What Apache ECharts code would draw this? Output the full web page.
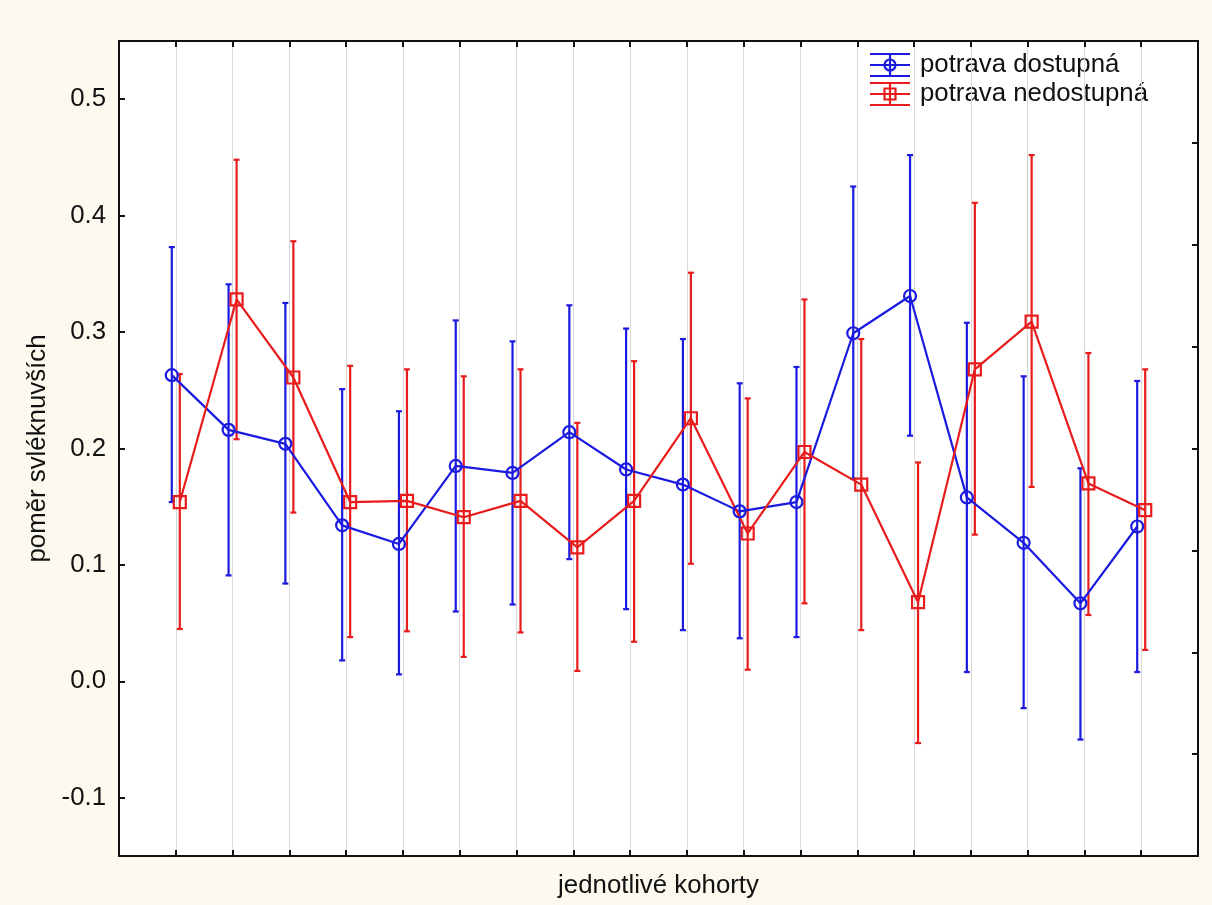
<!DOCTYPE html>
<html>
<head>
<meta charset="utf-8">
<script src="https://cdn.jsdelivr.net/npm/echarts@6/dist/echarts.min.js"></script>
<style>
html,body{margin:0;padding:0;background:#fcf9ef;}
#chart{width:1212px;height:905px;}
</style>
</head>
<body>
<div id="chart"></div>
<script>
// cohorts (x categories, labels not shown in the original)
var categories = ['1','2','3','4','5','6','7','8','9','10','11','12','13','14','15','16','17','18'];
var seriesNames = ['potrava dostupná', 'potrava nedostupná'];

// potrava dostupná (blue, circles)
var blueMean = [0.263, 0.216, 0.204, 0.134, 0.118, 0.185, 0.179, 0.214, 0.182, 0.169, 0.146, 0.154, 0.299, 0.331, 0.158, 0.119, 0.067, 0.133];
var blueLow  = [0.154, 0.091, 0.084, 0.018, 0.006, 0.060, 0.066, 0.105, 0.062, 0.044, 0.037, 0.038, 0.174, 0.211, 0.008, -0.023, -0.050, 0.008];
var blueHigh = [0.373, 0.341, 0.325, 0.251, 0.232, 0.310, 0.292, 0.323, 0.303, 0.294, 0.256, 0.270, 0.425, 0.452, 0.308, 0.262, 0.183, 0.258];

// potrava nedostupná (red, squares)
var redMean = [0.154, 0.328, 0.261, 0.154, 0.155, 0.141, 0.155, 0.115, 0.155, 0.226, 0.127, 0.197, 0.169, 0.068, 0.268, 0.309, 0.170, 0.147];
var redLow  = [0.045, 0.208, 0.145, 0.038, 0.043, 0.021, 0.042, 0.009, 0.034, 0.101, 0.010, 0.067, 0.044, -0.053, 0.126, 0.167, 0.057, 0.027];
var redHigh = [0.264, 0.448, 0.378, 0.271, 0.268, 0.262, 0.268, 0.222, 0.275, 0.351, 0.243, 0.328, 0.294, 0.188, 0.411, 0.452, 0.282, 0.268];

// y tick labels
var yTicks = [-0.1, 0.0, 0.1, 0.2, 0.3, 0.4, 0.5];

var BLUE = '#1a1ae0';
var RED = '#e81c1c';
var FONT = 'Liberation Sans, Arial, sans-serif';
var FS = 25.8;
var LW = 2.2;

function pts(mean){ return categories.map(function(c,i){ return [i+1, mean[i]]; }); }
function errs(low, high){ return categories.map(function(c,i){ return [i+1, low[i], high[i]]; }); }

function errRender(color){
  return function(params, api){
    var x = api.value(0);
    var lo = api.coord([x, api.value(1)]);
    var hi = api.coord([x, api.value(2)]);
    var w = 3;
    var st = {stroke: color, lineWidth: LW};
    return {
      type: 'group',
      children: [
        {type:'line', shape:{x1:lo[0], y1:lo[1], x2:hi[0], y2:hi[1]}, style: st},
        {type:'line', shape:{x1:lo[0]-w, y1:lo[1], x2:lo[0]+w, y2:lo[1]}, style: st},
        {type:'line', shape:{x1:hi[0]-w, y1:hi[1], x2:hi[0]+w, y2:hi[1]}, style: st}
      ]
    };
  };
}

var chart = echarts.init(document.getElementById('chart'), null, {renderer:'canvas'});

var L = 119, R = 14, T = 41, B = 49, OFF = 4;
var XMIN = 0, XMAX = categories.length + 1, YMIN = -0.15, YMAX = 0.55;

function hiddenX(gi){ return {type:'value', gridIndex:gi, min:XMIN, max:XMAX, show:false, splitLine:{show:false}}; }
function hiddenY(gi){ return {type:'value', gridIndex:gi, min:YMIN, max:YMAX, show:false, splitLine:{show:false}}; }

function legendItem(y, color, marker, text){
  var st = {stroke: color, lineWidth: LW};
  return [
    {type:'line', shape:{x1:870,y1:y-11,x2:910,y2:y-11}, style:st},
    {type:'line', shape:{x1:870,y1:y,x2:910,y2:y}, style:st},
    {type:'line', shape:{x1:870,y1:y+11,x2:910,y2:y+11}, style:st},
    {type:'line', shape:{x1:890,y1:y-11,x2:890,y2:y+11}, style:st},
    marker,
    {type:'text', x:920, y:y, style:{text:text, font:FS+'px '+FONT, fill:'#111', verticalAlign:'middle'}}
  ];
}

var legendEls = legendItem(65, BLUE,
    {type:'circle', shape:{cx:890, cy:65, r:5.5}, style:{stroke:BLUE, lineWidth:LW, fill:'none'}}, seriesNames[0])
  .concat(legendItem(94, RED,
    {type:'rect', shape:{x:884.5, y:88.5, width:11, height:11}, style:{stroke:RED, lineWidth:LW, fill:'none'}}, seriesNames[1]));

var option = {
  backgroundColor: '#fcf9ef',
  animation: false,
  grid: [
    {left:L, right:R, top:T, bottom:B, show:true, backgroundColor:'#ffffff', borderWidth:0},
    {left:L-OFF, right:R+OFF, top:T, bottom:B},
    {left:L+OFF, right:R-OFF, top:T, bottom:B}
  ],
  xAxis: [
    {type:'value', gridIndex:0, position:'bottom', min:XMIN, max:XMAX, interval:1,
     name:'jednotlivé kohorty', nameLocation:'middle', nameGap:17,
     nameTextStyle:{fontFamily:FONT, fontSize:FS, color:'#111', verticalAlign:'top'},
     axisLine:{show:true, onZero:false, lineStyle:{color:'#111', width:2}},
     axisTick:{show:true, inside:true, length:6, lineStyle:{color:'#111', width:2}},
     axisLabel:{show:false},
     splitLine:{show:true, lineStyle:{color:'#d8d8d8', width:1}}},
    {type:'value', gridIndex:0, position:'top', min:XMIN, max:XMAX, interval:1,
     axisLine:{show:true, onZero:false, lineStyle:{color:'#111', width:2}},
     axisTick:{show:true, inside:true, length:6, lineStyle:{color:'#111', width:2}},
     axisLabel:{show:false}, splitLine:{show:false}},
    hiddenX(1), hiddenX(2)
  ],
  yAxis: [
    {type:'value', gridIndex:0, position:'left', min:YMIN, max:YMAX,
     name:'poměr svléknuvších', nameLocation:'middle', nameGap:68, nameRotate:90,
     nameTextStyle:{fontFamily:FONT, fontSize:FS, color:'#111'},
     axisLine:{show:true, onZero:false, lineStyle:{color:'#111', width:2}},
     axisTick:{show:true, inside:true, length:6, customValues: yTicks, lineStyle:{color:'#111', width:2}},
     axisLabel:{show:true, customValues: yTicks, margin:13, fontFamily:FONT, fontSize:FS, color:'#111',
       formatter:function(v){ return (Math.round(v*10)/10).toFixed(1); }},
     splitLine:{show:false}},
    {type:'value', gridIndex:0, position:'right', min:0, max:8, interval:1,
     axisLine:{show:true, onZero:false, lineStyle:{color:'#111', width:2}},
     axisTick:{show:true, inside:true, length:6, lineStyle:{color:'#111', width:2}},
     axisLabel:{show:false}, splitLine:{show:false}},
    hiddenY(1), hiddenY(2)
  ],
  series: [
    {type:'custom', name:seriesNames[0]+' err', xAxisIndex:2, yAxisIndex:2, data: errs(blueLow, blueHigh),
     renderItem: errRender(BLUE), z:2},
    {type:'custom', name:seriesNames[1]+' err', xAxisIndex:3, yAxisIndex:3, data: errs(redLow, redHigh),
     renderItem: errRender(RED), z:2},
    {type:'line', name:seriesNames[0], xAxisIndex:2, yAxisIndex:2, data: pts(blueMean),
     symbol:'circle', symbolSize:12, showAllSymbol:true,
     lineStyle:{color:BLUE, width:LW},
     itemStyle:{color:'rgba(255,255,255,0)', borderColor:BLUE, borderWidth:LW}, z:3},
    {type:'line', name:seriesNames[1], xAxisIndex:3, yAxisIndex:3, data: pts(redMean),
     symbol:'rect', symbolSize:12, showAllSymbol:true,
     lineStyle:{color:RED, width:LW},
     itemStyle:{color:'rgba(255,255,255,0)', borderColor:RED, borderWidth:LW}, z:3}
  ],
  graphic: legendEls
};
chart.setOption(option);
</script>
</body>
</html>
